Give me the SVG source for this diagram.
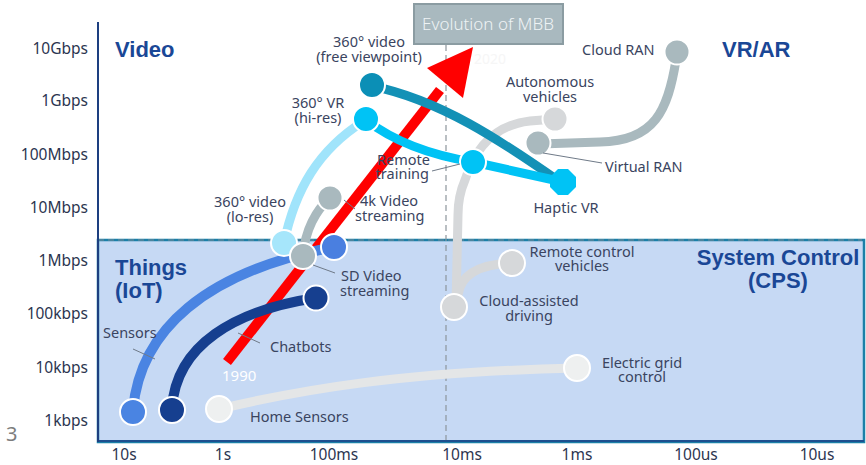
<svg xmlns="http://www.w3.org/2000/svg" width="866" height="465" viewBox="0 0 866 465">
<style>
text{font-family:"Noto Sans","Liberation Sans",sans-serif;}
.ax{font-size:15.5px;fill:#2b3550;}
.lb{font-size:14.5px;fill:#3a4460;}
.ttl{font-family:"Liberation Sans",Arial,sans-serif;font-weight:bold;font-size:22px;fill:#1a4796;}
.c{stroke:#ffffff;stroke-width:2;}
.ln{fill:none;stroke-linecap:round;}
.ld{fill:none;stroke:#6f7a88;stroke-width:1;}
</style>
<rect x="0" y="0" width="866" height="465" fill="#ffffff"/>
<g id="panel">
<rect x="98" y="240" width="766" height="202" fill="#c6d9f4" stroke="#1b80a8" stroke-width="2.5"/>
<line x1="98" y1="441" x2="864" y2="441" stroke="#1d4f8f" stroke-width="2"/>
<line x1="98" y1="240" x2="862" y2="240" stroke="#7c8894" stroke-width="1" stroke-dasharray="6,4"/>
</g>
<g id="axes">
<line x1="98" y1="22" x2="98" y2="442" stroke="#1d3f80" stroke-width="2"/>
<line x1="446" y1="15" x2="446" y2="440" stroke="#8d959c" stroke-width="1.2" stroke-dasharray="6,4"/>
<g text-anchor="end" class="ax">
<text x="88" y="54">10Gbps</text>
<text x="88" y="106">1Gbps</text>
<text x="88" y="160">100Mbps</text>
<text x="88" y="213">10Mbps</text>
<text x="88" y="266">1Mbps</text>
<text x="88" y="319">100kbps</text>
<text x="88" y="373">10kbps</text>
<text x="88" y="426">1kbps</text>
</g>
<g text-anchor="middle" class="ax">
<text x="124" y="460">10s</text>
<text x="223" y="460">1s</text>
<text x="334" y="460">100ms</text>
<text x="462" y="460">10ms</text>
<text x="577" y="460">1ms</text>
<text x="696" y="460">100us</text>
<text x="817" y="460">10us</text>
</g>
<text x="6" y="441" style="font-size:20px;fill:#7d7d7d;">3</text>
</g>
<g id="titles">
<text class="ttl" x="115" y="57">Video</text>
<text class="ttl" x="722" y="57">VR/AR</text>
<text class="ttl" x="115" y="275">Things</text>
<text class="ttl" x="115" y="298">(IoT)</text>
<text class="ttl" x="778" y="265" text-anchor="middle">System Control</text>
<text class="ttl" x="778" y="288" text-anchor="middle">(CPS)</text>
</g>
<g id="evolution-mbb">
<rect x="414" y="4" width="149" height="40" fill="#a9b9bf" stroke="#8b9ca2" stroke-width="2"/>
<text x="488" y="30" text-anchor="middle" style="font-size:17px;fill:#eef3f5;font-weight:300;">Evolution of MBB</text>
</g>
<g id="connectors">
<path d="M227,362 L440,90" stroke="#ff0000" stroke-width="10" fill="none"/>
<polygon points="473,47 427,68 463,98" fill="#ff0000"/>
<text x="222" y="381" style="font-size:15px;fill:#ffffff;">1990</text>
<text x="474" y="64" style="font-size:14px;fill:#f6f6f6;">2020</text>
<path class="ln" d="M133,410 C140,330 205,272 334,247" stroke="#4a84e2" stroke-width="10"/>
<path class="ln" d="M172,408 C176,345 235,310 316,298" stroke="#163f8f" stroke-width="10"/>
<path class="ln" d="M219,409 C300,390 400,372 577,368" stroke="#e4e6e7" stroke-width="9"/>
<path class="ln" d="M284,243 C295,190 318,150 364,121" stroke="#a0e4fb" stroke-width="9"/>
<path class="ln" d="M330,198 C316,210 305,230 303,256" stroke="#a9b9be" stroke-width="9"/>
<path class="ln" d="M555,119 L530,121 Q482,126 465,180 Q458,196 458,215 L456,305" stroke="#d6d8da" stroke-width="9"/>
<path class="ln" d="M458,295 Q462,265 512,263" stroke="#d6d8da" stroke-width="9"/>
<path class="ln" d="M676,60 C668,110 655,141 600,142 L540,144" stroke="#a9b9be" stroke-width="9"/>
<path class="ln" d="M372,86 C440,100 500,140 560,182" stroke="#1391b6" stroke-width="9"/>
<path class="ln" d="M366,120 C392,140 430,155 473,162 L563,182" stroke="#00c3f5" stroke-width="9"/>
</g>
<g id="sensors">
<circle class="c" cx="133" cy="412" r="13" fill="#4a84e2"/>
<line class="ld" x1="133" y1="349" x2="155" y2="359"/>
<text class="lb" x="103" y="338">Sensors</text>
</g>
<g id="chatbots">
<circle class="c" cx="172" cy="410" r="13" fill="#163f8f"/>
<circle class="c" cx="316" cy="298" r="12.5" fill="#163f8f"/>
<line class="ld" x1="238" y1="333" x2="260" y2="343"/>
<text class="lb" x="270" y="352">Chatbots</text>
</g>
<g id="home-sensors">
<circle class="c" cx="219" cy="409" r="13" fill="#eef0f0"/>
<text class="lb" x="250" y="422">Home Sensors</text>
</g>
<g id="electric-grid">
<circle class="c" cx="577" cy="368" r="13" fill="#eef0f0"/>
<text class="lb" x="642" y="368" text-anchor="middle">Electric grid</text>
<text class="lb" x="642" y="382" text-anchor="middle">control</text>
</g>
<g id="video-lores">
<circle class="c" cx="284" cy="243" r="13" fill="#a6e6fb"/>
<text class="lb" x="250" y="207" text-anchor="middle">360° video</text>
<text class="lb" x="250" y="222" text-anchor="middle">(lo-res)</text>
</g>
<g id="mbps-1">
<circle class="c" cx="334" cy="247" r="13" fill="#4a7fe0"/>
</g>
<g id="video-4k">
<circle class="c" cx="330" cy="198" r="12.5" fill="#a9b9be"/>
<line class="ld" x1="344" y1="200" x2="355" y2="209"/>
<text class="lb" x="360" y="206">4k Video</text>
<text class="lb" x="355" y="221">streaming</text>
</g>
<g id="video-sd">
<circle class="c" cx="303" cy="256" r="13" fill="#a9b9be"/>
<line class="ld" x1="313" y1="265" x2="335" y2="273"/>
<text class="lb" x="341" y="281">SD Video</text>
<text class="lb" x="340" y="296">streaming</text>
</g>
<g id="vr-hires">
<circle class="c" cx="366" cy="119" r="13" fill="#00c3f5"/>
<text class="lb" x="318" y="108" text-anchor="middle">360° VR</text>
<text class="lb" x="318" y="123" text-anchor="middle">(hi-res)</text>
</g>
<g id="video-free">
<circle class="c" cx="372" cy="85" r="13" fill="#0b8fb6"/>
<text class="lb" x="369" y="47" text-anchor="middle">360° video</text>
<text class="lb" x="369" y="62" text-anchor="middle">(free viewpoint)</text>
</g>
<g id="remote-training">
<circle class="c" cx="473" cy="162" r="13" fill="#00c3f5"/>
<line class="ld" x1="432" y1="171" x2="460" y2="164"/>
<text class="lb" x="430" y="165" text-anchor="end">Remote</text>
<text class="lb" x="429" y="179" text-anchor="end">training</text>
</g>
<g id="haptic-vr">
<polygon points="568,169 576,177 576,187 568,195 558,195 550,187 550,177 558,169" fill="#00c3f5"/>
<text class="lb" x="566" y="213" text-anchor="middle">Haptic VR</text>
</g>
<g id="autonomous">
<circle class="c" cx="555" cy="119" r="12.5" fill="#d6d8da"/>
<text class="lb" x="550" y="87" text-anchor="middle">Autonomous</text>
<text class="lb" x="550" y="102" text-anchor="middle">vehicles</text>
</g>
<g id="virtual-ran">
<circle class="c" cx="538" cy="143" r="12.5" fill="#a9b9be"/>
<line class="ld" x1="543" y1="153" x2="602" y2="163"/>
<text class="lb" x="605" y="172">Virtual RAN</text>
</g>
<g id="cloud-ran">
<circle class="c" cx="677" cy="52" r="12.5" fill="#a9b9be"/>
<text class="lb" x="582" y="55">Cloud RAN</text>
</g>
<g id="cloud-assisted">
<circle class="c" cx="454" cy="307" r="13" fill="#d6d8da"/>
<text class="lb" x="529" y="306" text-anchor="middle">Cloud-assisted</text>
<text class="lb" x="529" y="321" text-anchor="middle">driving</text>
</g>
<g id="remote-control">
<circle class="c" cx="512" cy="263" r="13" fill="#d6d8da"/>
<text class="lb" x="582" y="257" text-anchor="middle">Remote control</text>
<text class="lb" x="582" y="271" text-anchor="middle">vehicles</text>
</g>
</svg>
